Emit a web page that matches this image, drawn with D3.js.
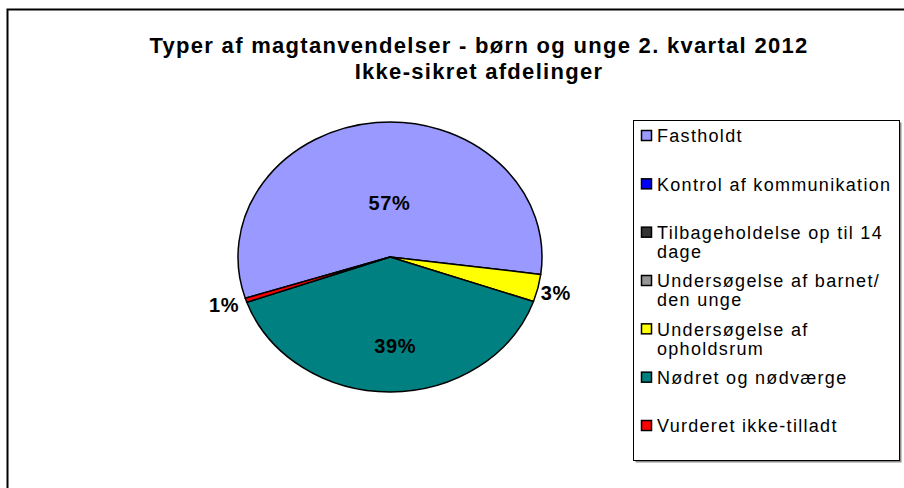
<!DOCTYPE html>
<html>
<head>
<meta charset="utf-8">
<script src="https://cdn.jsdelivr.net/npm/d3@7"></script>
<style>
  body { margin: 0; background: #fff; }
  svg { font-family: "Liberation Sans", Arial, sans-serif; }
</style>
</head>
<body>
<div id="vis"></div>
<script>
const FRAME_WIDTH = 904;
const FRAME_HEIGHT = 488;

// chart data (percent shares)
const TITLE_LINES = ["Typer af magtanvendelser  - børn og unge 2. kvartal 2012", "Ikke-sikret afdelinger"];
const CATEGORIES = [
  "Fastholdt",
  "Kontrol af kommunikation",
  "Tilbageholdelse op til 14\ndage",
  "Undersøgelse af barnet/\nden unge",
  "Undersøgelse af\nopholdsrum",
  "Nødret og nødværge",
  "Vurderet ikke-tilladt"
];
const VALUES = [57.0, 0, 0, 0, 3.3, 39.2, 0.5];
const COLORS = ["#9999ff", "#0000ff", "#333333", "#969696", "#ffff00", "#008080", "#ff0000"];

const PIE_CX = 390, PIE_CY = 257;
const RX = 152, RY = 135;
const START_ANGLE = -107.8 * Math.PI / 180;

const svg = d3.select("#vis")
  .append("svg")
    .attr("width", FRAME_WIDTH)
    .attr("height", FRAME_HEIGHT);

// outer chart border (only top and left are visible)
svg.append("path")
  .attr("d", "M7.5," + FRAME_HEIGHT + "V9.5H" + FRAME_WIDTH)
  .attr("fill", "none")
  .attr("stroke", "#000")
  .attr("stroke-width", 2);

// title
const title = svg.append("text")
  .attr("x", 479)
  .attr("y", 53)
  .attr("text-anchor", "middle")
  .attr("font-weight", "bold")
  .attr("font-size", "22px")
  .attr("letter-spacing", "1.3px");
title.selectAll("tspan")
  .data(TITLE_LINES)
  .enter()
  .append("tspan")
    .attr("x", 479)
    .attr("dy", (d, i) => i === 0 ? 0 : 26)
    .text(d => d);

// pie
const data = CATEGORIES.map((c, i) => ({name: c, value: VALUES[i], color: COLORS[i]}));
const total = d3.sum(VALUES);

const pie = d3.pie()
  .sort(null)
  .value(d => d.value)
  .startAngle(START_ANGLE)
  .endAngle(START_ANGLE + 2 * Math.PI);

const arcs = pie(data);
const arc = d3.arc().innerRadius(0).outerRadius(RY);

const pieG = svg.append("g")
  .attr("transform", "translate(" + PIE_CX + "," + PIE_CY + ") scale(" + (RX / RY) + ",1)");

pieG.selectAll("path")
  .data(arcs.filter(d => d.data.value > 0))
  .enter()
  .append("path")
    .attr("d", arc)
    .attr("fill", d => d.data.color)
    .attr("stroke", "#000")
    .attr("stroke-width", 1.5)
    .attr("stroke-linejoin", "round")
    .attr("vector-effect", "non-scaling-stroke");

// labels: big slices inside, small slices just outside the rim
const isOutside = d => d.data.value / total < 0.1;
const midAngle = d => (d.startAngle + d.endAngle) / 2;

function labelPos(d) {
  const share = d.data.value / total;
  const mid = midAngle(d);
  if (isOutside(d)) {
    const x = PIE_CX + Math.sin(mid) * RX * 1.02;
    const y = PIE_CY - Math.cos(mid) * RY * 1.02 + 4;
    return [Math.sin(mid) < 0 ? x - 4 : x, y];
  }
  const r = share > 0.5 ? 0.4 : 0.66;
  return [PIE_CX + Math.sin(mid) * RX * r + 5, PIE_CY - Math.cos(mid) * RY * r];
}

svg.selectAll(".pct")
  .data(arcs.filter(d => d.data.value > 0))
  .enter()
  .append("text")
    .attr("class", "pct")
    .attr("x", d => labelPos(d)[0])
    .attr("y", d => labelPos(d)[1])
    .attr("dy", "0.35em")
    .attr("text-anchor", d => !isOutside(d) ? "middle" : (Math.sin(midAngle(d)) < 0 ? "end" : "start"))
    .attr("font-weight", "bold")
    .attr("font-size", "20px")
    .attr("letter-spacing", "0.6px")
    .text(d => Math.round(d.value / total * 100) + "%");

// legend
const LEG = {x: 633, y: 120, w: 266, h: 340};
svg.append("rect")
  .attr("x", LEG.x + 2.5).attr("y", LEG.y + 2.5)
  .attr("width", LEG.w).attr("height", LEG.h)
  .attr("fill", "#8c8c8c");
svg.append("rect")
  .attr("x", LEG.x + 0.5).attr("y", LEG.y + 0.5)
  .attr("width", LEG.w).attr("height", LEG.h)
  .attr("fill", "#fff")
  .attr("stroke", "#000")
  .attr("stroke-width", 1);

const legendY = d3.scalePoint()
  .domain(CATEGORIES)
  .range([136, 426]);

const items = svg.selectAll(".leg")
  .data(data)
  .enter()
  .append("g")
    .attr("class", "leg")
    .attr("transform", d => "translate(" + (LEG.x + 8) + "," + legendY(d.name) + ")");

items.append("rect")
  .attr("x", 0.5).attr("y", -5.5)
  .attr("width", 10).attr("height", 10)
  .attr("fill", d => d.color)
  .attr("stroke", "#000")
  .attr("stroke-width", 1.5);

items.append("text")
  .attr("x", 16)
  .attr("y", 0)
  .attr("font-size", "18px")
  .attr("letter-spacing", "1.3px")
  .selectAll("tspan")
  .data(d => d.name.split("\n"))
  .enter()
  .append("tspan")
    .attr("x", 16)
    .attr("dy", (d, i) => i === 0 ? "0.36em" : "1.05em")
    .text(d => d);
</script>
</body>
</html>
